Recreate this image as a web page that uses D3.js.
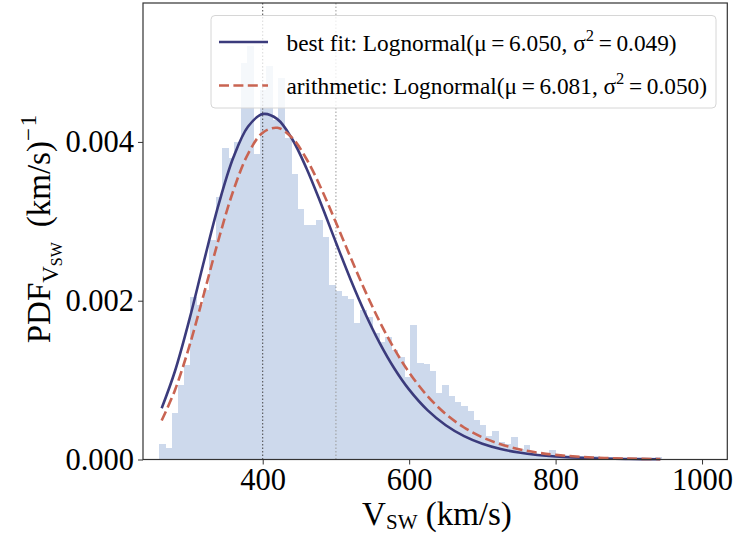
<!DOCTYPE html>
<html>
<head>
<meta charset="utf-8">
<script src="https://cdn.jsdelivr.net/npm/d3@7"></script>
<style>
  body { margin: 0; background: #fff; }
  svg { display: block; }
</style>
</head>
<body>
<svg id="chart" width="734" height="537"></svg>
<script>
// histogram of V_SW (density), 80 equal bins over histRange
var histRange = [258.4, 945.0];
var histDensity = [ // x 1e-3
  0.19, 0.15, 0.59, 0.94, 1.19, 2.05, 1.95, 2.13, 2.76, 3.31,
  3.92, 3.80, 4.00, 5.00, 5.21, 3.85, 4.65, 4.96, 4.27, 4.81,
  4.05, 3.60, 3.16, 2.95, 2.95, 3.02, 2.80, 2.20, 2.12, 2.06,
  2.02, 1.72, 1.88, 1.80, 1.59, 1.48, 1.54, 1.38, 1.29, 1.04,
  1.69, 1.22, 1.20, 1.11, 0.84, 0.94, 0.80, 0.72, 0.67, 0.61,
  0.50, 0.44, 0.30, 0.36, 0.22, 0.19, 0.28, 0.13, 0.18, 0.10,
  0.075, 0.075, 0.12, 0.063, 0.06, 0.055, 0.05, 0.045, 0.04, 0.04,
  0.035, 0.03, 0.03, 0.025, 0.025, 0.02, 0.02, 0.02, 0.015, 0.03
];

// curves
var curveV = [262, 280, 300, 320, 340, 360, 380, 400, 420, 440, 460, 480, 500,
  520, 540, 560, 580, 600, 625, 650, 675, 700, 725, 750, 775, 800, 850, 900, 943];
var bestFit = [0.6448, 1.1084, 1.7681, 2.5065, 3.2195, 3.8060, 4.1935, 4.3508,
  4.2869, 4.0399, 3.6628, 3.2112, 2.7338, 2.2683, 1.8400, 1.4632, 1.1433, 0.8796,
  0.6218, 0.4316, 0.2948, 0.1986, 0.1323, 0.0872, 0.0570, 0.0370, 0.0153, 0.0062, 0.0028];
var arithmetic = [0.4918, 0.8702, 1.4333, 2.0974, 2.7800, 3.3897, 3.8504, 4.1167,
  4.1780, 4.0534, 3.7819, 3.4103, 2.9849, 2.5450, 2.1207, 1.7315, 1.3885, 1.0960,
  0.7995, 0.5722, 0.4029, 0.2797, 0.1918, 0.1301, 0.0875, 0.0583, 0.0255, 0.0109, 0.0052];

var refLines = [400, 500];
var xTicks = [400, 600, 800, 1000];
var yTicks = [0, 0.002, 0.004];
var legendLabels = [
  ['best fit: Lognormal(\u03bc\u2009=\u20096.050, \u03c3', '2', '\u2009=\u20090.049)'],
  ['arithmetic: Lognormal(\u03bc\u2009=\u20096.081, \u03c3', '2', '\u2009=\u20090.050)']
];

(function() {
  'use strict';

  var font = '"Liberation Serif", "Times New Roman", serif';
  var blue = '#3b3b7c', red = '#c96452', barColor = '#cdd9ec';

  var svg = d3.select('#chart');
  var pLeft = 143, pRight = 727.3, pTop = 3, pBottom = 459.5;

  var x = d3.scaleLinear().domain([236.5, 1034.5]).range([pLeft, pRight]);
  var y = d3.scaleLinear().domain([0, 0.00575]).range([pBottom, pTop]);

  var binW = (histRange[1] - histRange[0]) / histDensity.length;
  var bins = histDensity.map(function(d, i) {
    return { x0: histRange[0] + i * binW, x1: histRange[0] + (i + 1) * binW, v: d / 1000 };
  });

  var plot = svg.append('g');

  // bars (no seams between neighbours)
  plot.selectAll('rect.bar')
    .data(bins)
    .enter().append('rect')
      .attr('class', 'bar')
      .attr('x', function(d) { return x(d.x0); })
      .attr('width', function(d) { return x(d.x1) - x(d.x0) + 0.6; })
      .attr('y', function(d) { return y(d.v); })
      .attr('height', function(d) { return y(0) - y(d.v); })
      .attr('fill', barColor)
      .attr('shape-rendering', 'crispEdges');

  // reference lines
  plot.selectAll('line.ref')
    .data(refLines)
    .enter().append('line')
      .attr('x1', function(d) { return x(d); })
      .attr('x2', function(d) { return x(d); })
      .attr('y1', pTop)
      .attr('y2', pBottom)
      .attr('stroke', function(d, i) { return i === 0 ? '#444' : '#999'; })
      .attr('stroke-width', 1)
      .attr('stroke-dasharray', '1.5,2');

  // curves
  var line = d3.line()
    .curve(d3.curveCatmullRom)
    .x(function(d) { return x(d[0]); })
    .y(function(d) { return y(d[1] / 1000); });

  plot.append('path')
    .datum(d3.zip(curveV, bestFit))
    .attr('fill', 'none')
    .attr('stroke', blue)
    .attr('stroke-width', 2.6)
    .attr('d', line);

  plot.append('path')
    .datum(d3.zip(curveV, arithmetic))
    .attr('fill', 'none')
    .attr('stroke', red)
    .attr('stroke-width', 2.6)
    .attr('stroke-dasharray', '10,4.4')
    .attr('d', line);

  // axes
  var xAxis = d3.axisBottom(x).tickValues(xTicks).tickSize(5).tickPadding(4)
    .tickSizeOuter(0).tickFormat(d3.format('d'));
  var yAxis = d3.axisLeft(y).tickValues(yTicks).tickSize(5).tickPadding(4)
    .tickSizeOuter(0).tickFormat(d3.format('.3f'));

  var gx = svg.append('g').attr('transform', 'translate(0,' + pBottom + ')').call(xAxis);
  var gy = svg.append('g').attr('transform', 'translate(' + pLeft + ',0)').call(yAxis);
  [gx, gy].forEach(function(g) {
    g.select('.domain').remove();
    g.selectAll('line').attr('stroke', '#333').attr('stroke-width', 1);
    g.selectAll('text').attr('font-family', font).attr('font-size', 30.5).attr('fill', '#000');
  });

  // frame
  svg.append('rect')
    .attr('x', pLeft).attr('y', pTop)
    .attr('width', pRight - pLeft).attr('height', pBottom - pTop)
    .attr('fill', 'none').attr('stroke', '#333').attr('stroke-width', 1.2);

  // legend
  var lg = svg.append('g');
  lg.append('rect')
    .attr('x', 211).attr('y', 15.5).attr('width', 505).attr('height', 92.5)
    .attr('rx', 4)
    .attr('fill', '#fff').attr('fill-opacity', 0.8)
    .attr('stroke', '#d6d6d6').attr('stroke-width', 1);

  var entries = lg.selectAll('g.entry')
    .data(legendLabels)
    .enter().append('g')
      .attr('transform', function(d, i) { return 'translate(0,' + (i * 43.5) + ')'; });

  entries.append('line')
    .attr('x1', 219).attr('x2', 268)
    .attr('y1', 42).attr('y2', 42)
    .attr('stroke', function(d, i) { return i === 0 ? blue : red; })
    .attr('stroke-width', 2.6)
    .attr('stroke-dasharray', function(d, i) { return i === 0 ? null : '10,4.4'; });

  var lt = entries.append('text')
    .attr('x', 286.5).attr('y', 50.5)
    .attr('font-family', font).attr('font-size', 23.3);
  lt.append('tspan').text(function(d) { return d[0]; });
  lt.append('tspan').attr('font-size', 16.5).attr('dy', -10).text(function(d) { return d[1]; });
  lt.append('tspan').attr('dy', 10).text(function(d) { return d[2]; });

  // axis labels
  var xl = svg.append('text')
    .attr('x', 437).attr('y', 525)
    .attr('text-anchor', 'middle')
    .attr('font-family', font).attr('font-size', 33);
  xl.append('tspan').text('V');
  xl.append('tspan').attr('font-size', 21).attr('dy', 4).text('SW');
  xl.append('tspan').attr('dy', -4).text(' (km/s)');

  var yl = svg.append('text')
    .attr('transform', 'translate(50,229) rotate(-90)')
    .attr('text-anchor', 'middle')
    .attr('font-family', font).attr('font-size', 33);
  yl.append('tspan').text('PDF');
  yl.append('tspan').attr('font-size', 23).attr('dy', 8).text('V');
  yl.append('tspan').attr('font-size', 16).attr('dy', 4).text('SW');
  yl.append('tspan').attr('dy', -12).text('\u2009 (km/s)');
  yl.append('tspan').attr('font-size', 23).attr('dy', -14).text('\u2212\u200a1');
})();
</script>
</body>
</html>
